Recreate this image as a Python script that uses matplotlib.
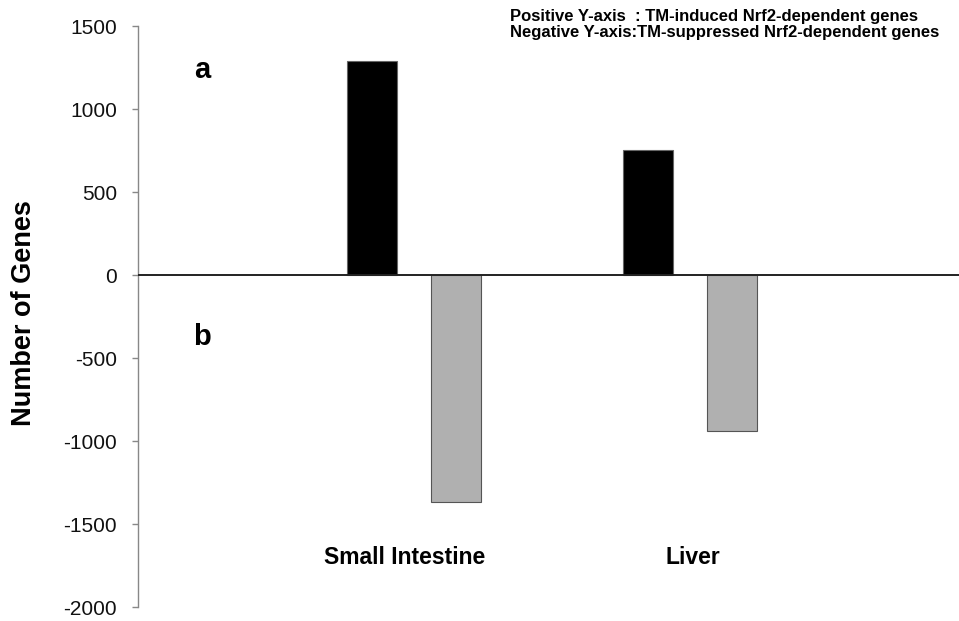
import matplotlib
matplotlib.use('Agg')
import matplotlib.pyplot as plt
import numpy as np

categories = ['Small Intestine', 'Liver']
induced = [1290, 755]
suppressed = [-1370, -940]
yticks = [1500, 1000, 500, 0, -500, -1000, -1500, -2000]
note_lines = ['Positive Y-axis  : TM-induced Nrf2-dependent genes',
              'Negative Y-axis:TM-suppressed Nrf2-dependent genes']

plt.rcParams['font.family'] = ['Liberation Sans', 'DejaVu Sans']
fig = plt.figure(figsize=(9.59, 6.21), dpi=100)
ax = fig.add_axes([0.1439, 0.0225, 0.8561, 0.9356])

x = np.arange(len(categories))
w = 0.181
off = 0.151
ax.bar(x - off, induced, w, color='black', edgecolor='#666666', linewidth=0.8, zorder=2)
ax.bar(x + off, suppressed, w, color='#b0b0b0', edgecolor='#555555', linewidth=0.8, zorder=2)
ax.axhline(0, color='#222222', lw=1.4, zorder=3)

ax.set_xlim(-1.0, 1.975)
ax.set_ylim(-2000, 1500)
ax.set_yticks(yticks)
ax.set_yticklabels([str(v) for v in yticks])
ax.tick_params(axis='y', labelsize=15, color='#888888', length=4.5, width=1, pad=10.5,
               labelcolor='#111111')
ax.set_xticks([])
for s in ['top', 'right', 'bottom']:
    ax.spines[s].set_visible(False)
ax.spines['left'].set_color('#888888')
ax.spines['left'].set_linewidth(1)

ax.set_ylabel('Number of Genes', fontsize=19.5, fontweight='bold')
ax.yaxis.set_label_coords(-0.123, 0.506)

label_offsets = [-0.033, 0.011]
for i, c in enumerate(categories):
    ax.text(i + label_offsets[i], -1699, c, ha='center', va='center',
            fontsize=16.5, fontweight='bold')

ax.text(-0.768, 1235, 'a', ha='center', va='center', fontsize=21, fontweight='bold')
ax.text(-0.768, -373, 'b', ha='center', va='center', fontsize=21, fontweight='bold')

fig.text(510 / 959, 1 - 17 / 621, note_lines[0], ha='left', va='center',
         fontsize=12, fontweight='bold')
fig.text(510 / 959, 1 - 32 / 621, note_lines[1], ha='left', va='center',
         fontsize=12, fontweight='bold')

fig.savefig('out.png', dpi=100)
